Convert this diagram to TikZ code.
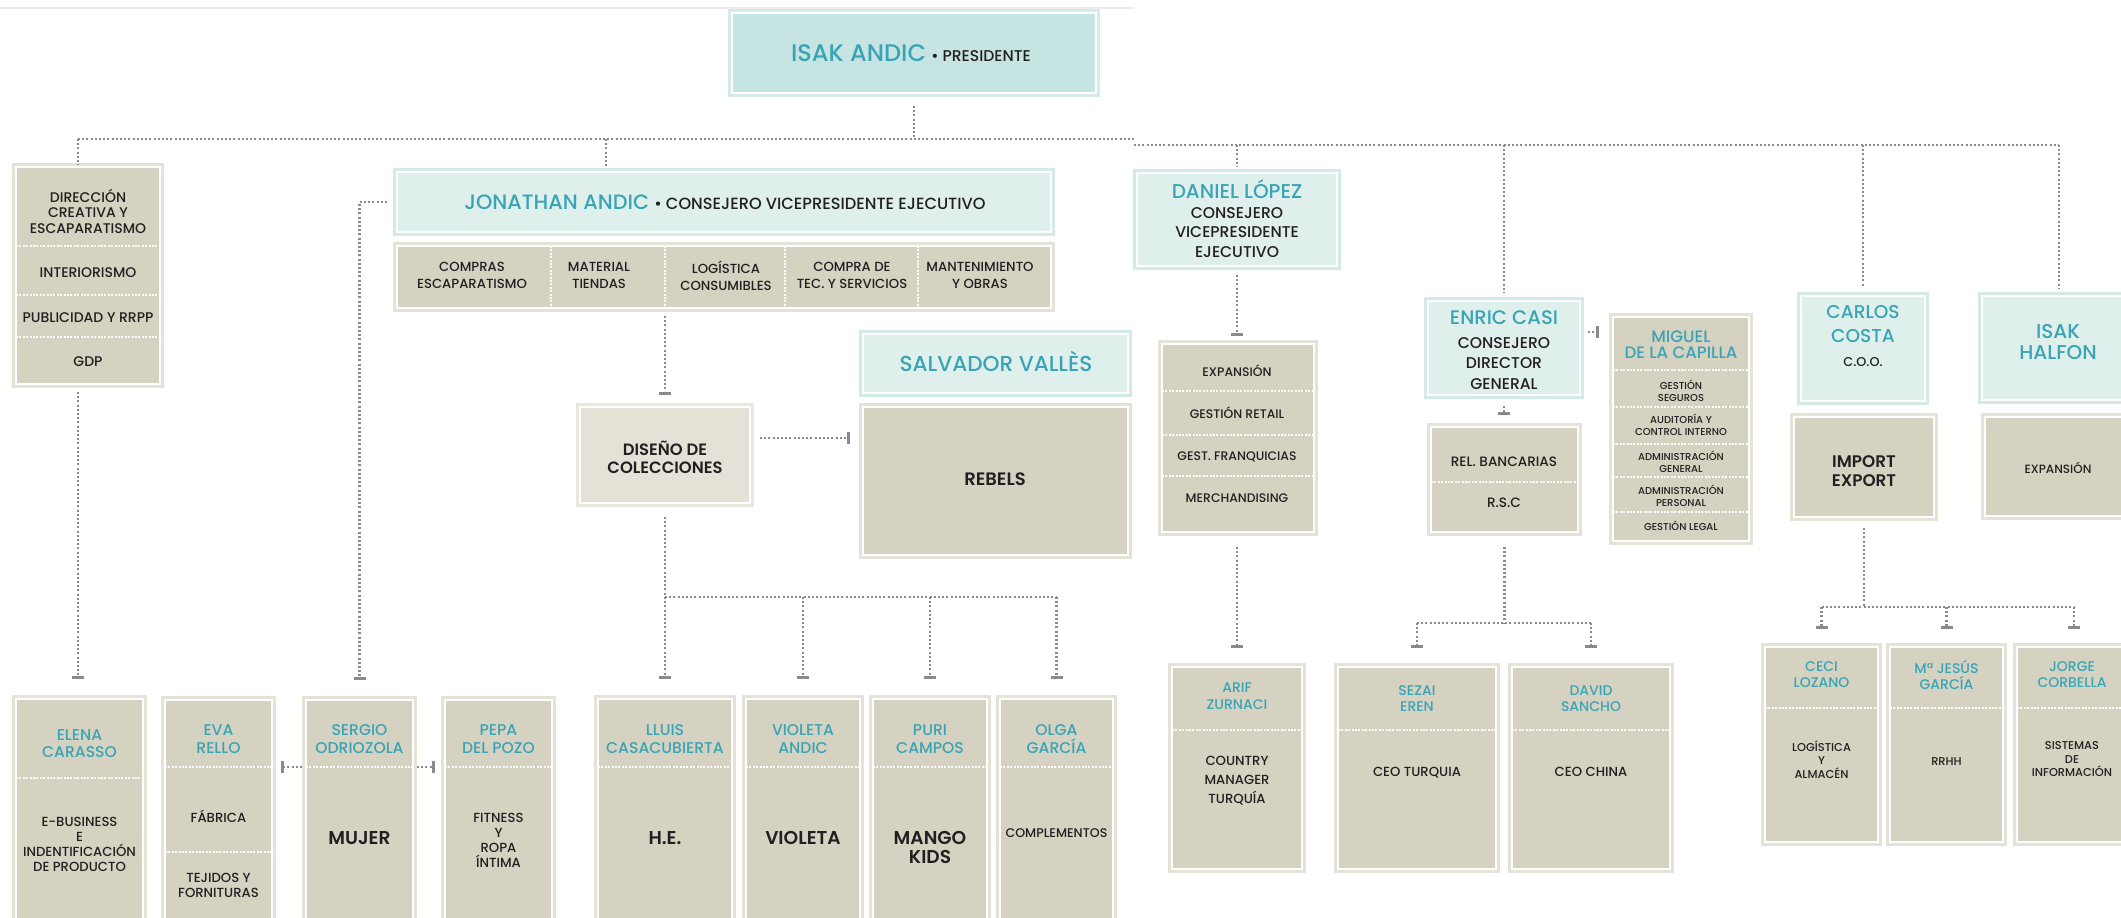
\documentclass[tikz,border=0pt]{standalone}
\usepackage{fontspec}
\setmainfont{Poppins}[UprightFont=* Medium, BoldFont=* SemiBold]
\usetikzlibrary{arrows.meta}
\definecolor{tealtxt}{RGB}{57,164,181}
\definecolor{darktxt}{RGB}{35,31,32}
\definecolor{beigefill}{RGB}{214,210,194}
\definecolor{beigeedge}{RGB}{229,226,215}
\definecolor{lfill}{RGB}{228,225,214}
\definecolor{ledge}{RGB}{234,231,223}
\definecolor{tealfill}{RGB}{223,239,236}
\definecolor{tealedge}{RGB}{212,234,231}
\definecolor{tealdfill}{RGB}{198,228,226}
\definecolor{tealdedge}{RGB}{212,235,233}
\definecolor{connc}{RGB}{138,138,140}
\definecolor{faint}{RGB}{236,236,236}
\newcommand\fs[2]{\fontsize{#1}{#2}\selectfont}
\newcommand\obox[6]{%
  \pgfmathsetmacro\oboxW{(#5-#3-8)*0.5}%
  \pgfmathsetmacro\oboxH{(#6-#4-8)*0.5}%
  \node[#2, minimum width=\oboxW pt, minimum height=\oboxH pt, anchor=north west] (#1) at (#3+4,#4+4) {};%
}
\tikzset{
  boxbase/.style={rectangle, draw=white, line width=1pt, inner sep=0pt, outer sep=0pt},
  beige/.style={boxbase, fill=beigefill, preaction={draw=beigeedge, line width=4pt}},
  lbeige/.style={boxbase, fill=lfill, preaction={draw=ledge, line width=4pt}},
  tealbox/.style={boxbase, fill=tealfill, preaction={draw=tealedge, line width=4pt}},
  tealD/.style={boxbase, fill=tealdfill, preaction={draw=tealdedge, line width=4pt}},
  txt/.style={inner sep=0pt, align=center, text=darktxt},
  nm/.style={txt, text=tealtxt},
  sepline/.style={draw=white, line width=1pt, dash pattern=on 1pt off 0.7pt},
  conn/.style={draw=connc, line width=1.2pt, dash pattern=on 1pt off 1.1pt},
  bar/.style={-{Bar[width=6pt, line width=1.5pt]}},
}
\newcommand\hsep[2]{\draw[sepline] (#1.west |- 0,#2) -- (#1.east |- 0,#2);}
\begin{document}
\begin{tikzpicture}[x=0.5pt,y=-0.5pt]
\useasboundingbox (0,0) rectangle (2121,917);
\clip (0,0) rectangle (2121,917);
\fill[white] (0,0) rectangle (2121,917);
\coordinate (hl1) at (0,8);
\coordinate (hl2) at (1134,8);
\draw[faint, line width=0.8pt] (hl1) -- (hl2);

% ---------- boxes
\obox{isak}{tealD}{728}{9}{1100}{97}
\obox{dir}{beige}{12}{163}{164}{388}
\obox{jon}{tealbox}{393}{168}{1055}{236}
\obox{jonsub}{beige}{393}{242}{1055}{312}
\obox{dan}{tealbox}{1133}{169}{1341}{270}
\obox{danlist}{beige}{1158}{340}{1318}{536}
\obox{salv}{tealbox}{859}{330}{1132}{397}
\obox{rebels}{beige}{859}{403}{1132}{559}
\obox{diseno}{lbeige}{576}{403}{754}{507}
\obox{enric}{tealbox}{1424}{297}{1584}{399}
\obox{rel}{beige}{1427}{423}{1582}{536}
\obox{miguel}{beige}{1609}{313}{1753}{545}
\obox{carlos}{tealbox}{1797}{292}{1929}{405}
\obox{impexp}{beige}{1790}{413}{1938}{521}
\obox{halfon}{tealbox}{1978}{292}{2140}{404}
\obox{expan}{beige}{1981}{413}{2137}{520}
\obox{elena}{beige}{12}{695}{147}{935}
\obox{eva}{beige}{161}{696}{276}{935}
\obox{sergio}{beige}{302}{696}{417}{935}
\obox{pepa}{beige}{441}{696}{556}{935}
\obox{lluis}{beige}{594}{695}{736}{935}
\obox{violeta}{beige}{742}{695}{864}{935}
\obox{puri}{beige}{869}{695}{991}{935}
\obox{olga}{beige}{996}{695}{1117}{935}
\obox{arif}{beige}{1168}{663}{1306}{873}
\obox{sezai}{beige}{1334}{663}{1500}{873}
\obox{david}{beige}{1508}{663}{1674}{873}
\obox{ceci}{beige}{1761}{643}{1882}{846}
\obox{mjesus}{beige}{1886}{643}{2007}{846}
\obox{jorge}{beige}{2013}{643}{2135}{846}

% ---------- separators
\hsep{dir}{246}\hsep{dir}{295}\hsep{dir}{337}
\hsep{danlist}{391}\hsep{danlist}{435}\hsep{danlist}{476}
\hsep{rel}{482}
\hsep{miguel}{370}\hsep{miguel}{407}\hsep{miguel}{444}\hsep{miguel}{477}\hsep{miguel}{512}
\hsep{elena}{778}
\hsep{eva}{767}\hsep{eva}{852}
\hsep{sergio}{767}\hsep{pepa}{767}
\hsep{lluis}{767}\hsep{violeta}{767}\hsep{puri}{767}\hsep{olga}{767}
\hsep{arif}{730}\hsep{sezai}{730}\hsep{david}{730}
\hsep{ceci}{708}\hsep{mjesus}{708}\hsep{jorge}{708}
\foreach \xx in {551,665,785,918}
  \draw[sepline] (\xx,0 |- jonsub.north) -- (\xx,0 |- jonsub.south);

% ---------- texts
\node[txt, anchor=base] (isakT) at (911,61) {{\color{tealtxt}\fs{12}{13}ISAK ANDIC} {\fs{7.8}{9}\textbullet\ PRESIDENTE}};
\node[txt, anchor=base] (jonT) at (725,209) {{\color{tealtxt}\fs{10.4}{12}JONATHAN ANDIC} {\fs{8.1}{9}\textbullet\ CONSEJERO VICEPRESIDENTE EJECUTIVO}};
\node[txt, font=\fs{6.6}{8.5}] (c1) at (472,275.5) {COMPRAS\\ESCAPARATISMO};
\node[txt, font=\fs{6.6}{8.5}] (c2) at (599,275.5) {MATERIAL\\TIENDAS};
\node[txt, font=\fs{6.6}{8.5}] (c3) at (726,275.5) {LOGÍSTICA\\CONSUMIBLES};
\node[txt, font=\fs{6.6}{8.5}] (c4) at (852,275.5) {COMPRA DE\\TEC. Y SERVICIOS};
\node[txt, font=\fs{6.6}{8.5}] (c5) at (980,275.5) {MANTENIMIENTO\\Y OBRAS};

\node[txt, font=\fs{7}{7.75}] (dir1) at (88,211) {DIRECCIÓN\\CREATIVA Y\\ESCAPARATISMO};
\node[txt, font=\fs{7}{8}, anchor=base] (dir2) at (88,277) {INTERIORISMO};
\node[txt, font=\fs{7}{8}, anchor=base] (dir3) at (88,322) {PUBLICIDAD Y RRPP};
\node[txt, font=\fs{7}{8}, anchor=base] (dir4) at (88,366) {GDP};

\node[nm, font=\fs{10}{11}, anchor=base] (danN) at (1237,198) {DANIEL LÓPEZ};
\node[txt, font=\fs{7.8}{9.75}] (danR) at (1237,232.5) {CONSEJERO\\VICEPRESIDENTE\\EJECUTIVO};
\node[txt, font=\fs{6.2}{7}, anchor=base] (dl1) at (1237,376.5) {EXPANSIÓN};
\node[txt, font=\fs{6.2}{7}, anchor=base] (dl2) at (1237,418.5) {GESTIÓN RETAIL};
\node[txt, font=\fs{6.2}{7}, anchor=base] (dl3) at (1237,460.5) {GEST. FRANQUICIAS};
\node[txt, font=\fs{6.2}{7}, anchor=base] (dl4) at (1237,502.5) {MERCHANDISING};

\node[nm, font=\fs{10.8}{12}, anchor=base] (salvT) at (996,371) {SALVADOR VALLÈS};
\node[txt, font=\bfseries\fs{9}{10}, anchor=base] (rebT) at (995,485) {REBELS};
\node[txt, font=\bfseries\fs{8.2}{9}] (disT) at (665,457) {DISEÑO DE\\COLECCIONES};

\node[nm, font=\fs{9.8}{11}, anchor=base] (enN) at (1504,324.5) {ENRIC CASI};
\node[txt, font=\fs{7.8}{10.25}] (enR) at (1504,363.5) {CONSEJERO\\DIRECTOR\\GENERAL};
\node[txt, font=\fs{6.8}{7}, anchor=base] (rel1) at (1504,466.5) {REL. BANCARIAS};
\node[txt, font=\fs{6.8}{7}, anchor=base] (rel2) at (1504,507.5) {R.S.C};

\node[nm, font=\fs{8.3}{8}] (migN) at (1681,345) {MIGUEL\\DE LA CAPILLA};
\node[txt, font=\fs{5}{6}] (mg1) at (1681,391) {GESTIÓN\\SEGUROS};
\node[txt, font=\fs{5}{6}] (mg2) at (1681,425) {AUDITORÍA Y\\CONTROL INTERNO};
\node[txt, font=\fs{5}{6}] (mg3) at (1681,461.5) {ADMINISTRACIÓN\\GENERAL};
\node[txt, font=\fs{5}{6}] (mg4) at (1681,496) {ADMINISTRACIÓN\\PERSONAL};
\node[txt, font=\fs{5}{6}, anchor=base] (mg5) at (1681,530.5) {GESTIÓN LEGAL};

\node[nm, font=\fs{9.3}{12}] (carN) at (1863,324) {CARLOS\\COSTA};
\node[txt, font=\fs{6.4}{7}, anchor=base] (carR) at (1863,366.5) {C.O.O.};
\node[txt, font=\bfseries\fs{8.4}{9.5}] (impT) at (1864,471.5) {IMPORT\\EXPORT};
\node[nm, font=\fs{10}{10.5}] (halN) at (2058,342.5) {ISAK\\HALFON};
\node[txt, font=\fs{6}{7}, anchor=base] (expT) at (2058,473) {EXPANSIÓN};

\node[nm, font=\fs{7.8}{8.5}] (elN) at (79.5,744) {ELENA\\CARASSO};
\node[txt, font=\fs{6.6}{7.5}] (elB) at (79.5,844.5) {E-BUSINESS\\E\\INDENTIFICACIÓN\\DE PRODUCTO};
\node[nm, font=\fs{7.8}{9}] (evN) at (218.5,739) {EVA\\RELLO};
\node[txt, font=\fs{6.6}{7.5}, anchor=base] (evB1) at (218.5,822) {FÁBRICA};
\node[txt, font=\fs{6.6}{7.5}] (evB2) at (218.5,885.5) {TEJIDOS Y\\FORNITURAS};
\node[nm, font=\fs{7.8}{9}] (seN) at (359.5,739) {SERGIO\\ODRIOZOLA};
\node[txt, font=\bfseries\fs{9.3}{10}, anchor=base] (seB) at (359.5,844.5) {MUJER};
\node[nm, font=\fs{7.8}{9}] (peN) at (498.5,739) {PEPA\\DEL POZO};
\node[txt, font=\fs{6.6}{7.6}] (peB) at (498.5,840.5) {FITNESS\\Y\\ROPA\\ÍNTIMA};
\node[nm, font=\fs{7.8}{9}] (llN) at (665,739) {LLUIS\\CASACUBIERTA};
\node[txt, font=\bfseries\fs{9.3}{10}, anchor=base] (llB) at (665,844.5) {H.E.};
\node[nm, font=\fs{7.8}{9}] (viN) at (803,739) {VIOLETA\\ANDIC};
\node[txt, font=\bfseries\fs{9.3}{10}, anchor=base] (viB) at (803,844.5) {VIOLETA};
\node[nm, font=\fs{7.8}{9}] (puN) at (930,739) {PURI\\CAMPOS};
\node[txt, font=\bfseries\fs{9.3}{9.5}] (puB) at (930,847.5) {MANGO\\KIDS};
\node[nm, font=\fs{7.8}{9}] (olN) at (1056.5,739) {OLGA\\GARCÍA};
\node[txt, font=\fs{6.3}{7}, anchor=base] (olB) at (1056.5,837.5) {COMPLEMENTOS};

\node[nm, font=\fs{7}{8.5}] (arN) at (1237,696.5) {ARIF\\ZURNACI};
\node[txt, font=\fs{6.6}{9.5}] (arB) at (1237,781) {COUNTRY\\MANAGER\\TURQUÍA};
\node[nm, font=\fs{7}{8}] (szN) at (1417,699) {SEZAI\\EREN};
\node[txt, font=\fs{6.6}{7.5}, anchor=base] (szB) at (1417,776.7) {CEO TURQUIA};
\node[nm, font=\fs{7}{8}] (daN) at (1591,699) {DAVID\\SANCHO};
\node[txt, font=\fs{6.6}{7.5}, anchor=base] (daB) at (1591,776.7) {CEO CHINA};

\node[nm, font=\fs{7}{8}] (ceN) at (1821.5,675) {CECI\\LOZANO};
\node[txt, font=\fs{5.7}{6.75}] (ceB) at (1821.5,759.5) {LOGÍSTICA\\Y\\ALMACÉN};
\node[nm, font=\fs{7}{8}] (mjN) at (1946.5,675) {Mª JESÚS\\GARCÍA};
\node[txt, font=\fs{5.7}{6.75}, anchor=base] (mjB) at (1946.5,765) {RRHH};
\node[nm, font=\fs{7}{8}] (joN) at (2072,675) {JORGE\\CORBELLA};
\node[txt, font=\fs{5.7}{6.75}] (joB) at (2072,759.5) {SISTEMAS\\DE\\INFORMACIÓN};

% ---------- connectors
\coordinate (tA) at (78,139);
\coordinate (tB) at (1134,139);
\coordinate (tC) at (1134,145);
\coordinate (tD) at (2059,145);
\coordinate (tJ) at (606,139);
\draw[conn] (tA) -- (tB);
\draw[conn] (tC) -- (tD);
\draw[conn, shorten <=6.5pt] (isak.south) -- (isak.south |- tA);
\draw[conn, shorten >=1pt] (tA) -- (tA |- dir.north);
\draw[conn, shorten >=3pt] (tJ) -- (tJ |- jon.north);
\draw[conn, shorten >=3pt] (dan.north |- tC) -- (dan.north);
\draw[conn, shorten >=4pt] (enric.north |- tC) -- (enric.north);
\draw[conn, shorten >=5pt] (carlos.north |- tC) -- (carlos.north);
\draw[conn, shorten >=4pt] (halfon.north |- tC) -- (halfon.north);

\draw[conn, bar, shorten <=4pt, shorten >=10pt] (tA |- dir.south) -- (tA |- elena.north);
\draw[conn, bar, shorten <=5pt, shorten >=10pt] (jon.west) -| (sergio.north);
\coordinate (yEva) at (0,767);
\draw[conn, bar, shorten <=2pt, shorten >=4.5pt] (sergio.west |- yEva) -- (eva.east |- yEva);
\draw[conn, bar, shorten <=2pt, shorten >=5pt] (sergio.east |- yEva) -- (pepa.west |- yEva);

\coordinate (xDis) at (665,0);
\draw[conn, bar, shorten <=4pt, shorten >=6pt] (jonsub.south -| xDis) -- (diseno.north);
\coordinate (yReb) at (0,438);
\draw[conn, bar, shorten <=5pt, shorten >=6.5pt] (diseno.east |- yReb) -- (rebels.west |- yReb);
\coordinate (bD) at (665,597);
\draw[conn, shorten <=7pt] (diseno.south) -- (bD);
\draw[conn] (lluis.north |- bD) -- (olga.north |- bD);
\foreach \n in {lluis,violeta,puri,olga}
  \draw[conn, bar, shorten >=10pt] (\n.north |- bD) -- (\n.north);

\draw[conn, bar, shorten <=4.5pt, shorten >=4pt] (dan.south) -- (dan.south |- danlist.north);
\draw[conn, bar, shorten <=7.5pt, shorten >=9.5pt] (arif.north |- danlist.south) -- (arif.north);

\draw[conn, bar, shorten <=5.5pt, shorten >=6pt] (enric.south) -- (enric.south |- rel.north);
\coordinate (yMig) at (0,332);
\draw[conn, bar, shorten <=4pt, shorten >=7pt] (enric.east |- yMig) -- (miguel.west |- yMig);
\coordinate (bR) at (1504,623);
\draw[conn, shorten <=7.5pt] (rel.south) -- (rel.south |- bR);
\draw[conn] (sezai.north |- bR) -- (david.north |- bR);
\foreach \n in {sezai,david}
  \draw[conn, bar, shorten >=9.5pt] (\n.north |- bR) -- (\n.north);

\coordinate (bI) at (1863,607);
\draw[conn, shorten <=5.5pt] (impexp.south) -- (impexp.south |- bI);
\draw[conn] (ceci.north |- bI) -- (jorge.north |- bI);
\foreach \n in {ceci,mjesus,jorge}
  \draw[conn, bar, shorten >=9pt] (\n.north |- bI) -- (\n.north);
\end{tikzpicture}
\end{document}
